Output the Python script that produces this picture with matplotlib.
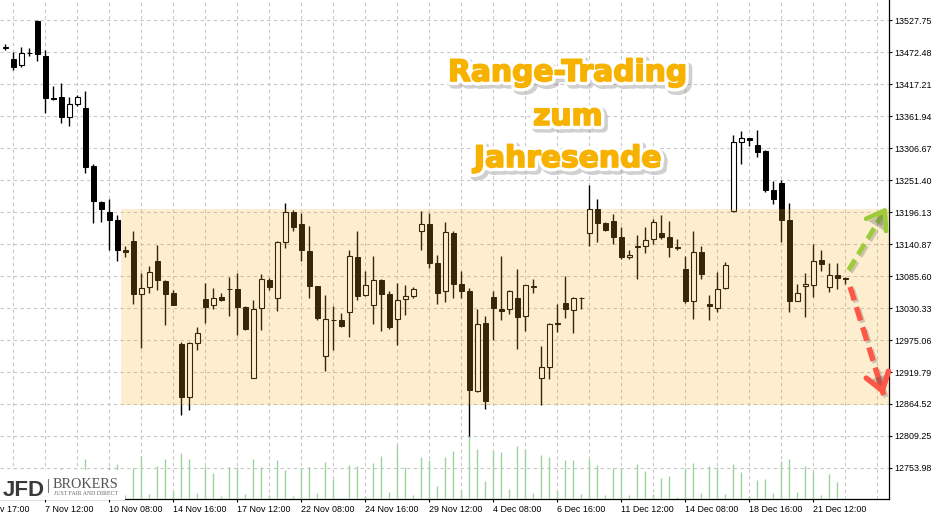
import numpy as np
import matplotlib
matplotlib.use('Agg')
import matplotlib.pyplot as plt
import matplotlib.patheffects as pe
from matplotlib.patches import Rectangle
from matplotlib.lines import Line2D

# Candle data (one bar per index)
opens = [13482, 13462, 13450, 13472, 13527, 13467, 13393, 13396, 13361, 13383,
         13376, 13276, 13214, 13197, 13183, 13130, 13147, 13054, 13066, 13112,
         13077, 13056, 12968, 12876, 12970, 13046, 13035, 13049, 13064, 13063,
         13033, 12910, 13031, 13079, 13047, 13145, 13197, 13176, 13129, 13068,
         12947, 13010, 13010, 13023, 13118, 13053, 13035, 13079, 13055, 13011,
         13046, 13052, 13163, 13176, 13108, 13060, 13160, 13072, 13060, 12887,
         13004, 13049, 13029, 13028, 13048, 13016, 13068, 12909, 12928, 13003,
         13039, 13027, 13048, 13160, 13201, 13178, 13181, 13153, 13118, 13137,
         13137, 13150, 13160, 13153, 13136, 13098, 13043, 13127, 13037, 13030,
         13065, 13198, 13317, 13324, 13313, 13302, 13235, 13246, 13183, 13043,
         13069, 13070, 13113, 13067, 13087, 13082]
highs = [13487, 13474, 13482, 13480, 13529, 13477, 13414, 13420, 13395, 13399,
         13406, 13279, 13215, 13219, 13192, 13137, 13164, 13091, 13103, 13140,
         13079, 13062, 12971, 12972, 12998, 13074, 13065, 13056, 13085, 13091,
         13034, 13045, 13090, 13082, 13147, 13212, 13200, 13194, 13172, 13069,
         13053, 13034, 13022, 13130, 13164, 13095, 13121, 13081, 13060, 13074,
         13070, 13067, 13198, 13194, 13122, 13179, 13163, 13095, 13065, 13029,
         13017, 13060, 13121, 13061, 13098, 13071, 13081, 12964, 13004, 13038,
         13086, 13049, 13050, 13243, 13219, 13179, 13193, 13171, 13131, 13157,
         13170, 13185, 13192, 13181, 13150, 13121, 13164, 13137, 13053, 13092,
         13110, 13329, 13336, 13325, 13338, 13303, 13250, 13252, 13212, 13072,
         13091, 13141, 13130, 13108, 13108, 13085]
lows = [13477, 13443, 13448, 13466, 13458, 13368, 13390, 13350, 13345, 13380,
        13264, 13177, 13180, 13131, 13111, 13118, 13038, 12962, 13057, 13062,
        13001, 13035, 12846, 12854, 12958, 13005, 13028, 13043, 13016, 12984,
        12993, 12909, 12993, 13062, 13026, 13135, 13164, 13111, 13047, 13009,
        12921, 12958, 12997, 12981, 13045, 13052, 13003, 12990, 12995, 12966,
        13019, 13047, 13130, 13100, 13037, 13041, 13047, 13048, 12808, 12885,
        12855, 12975, 13010, 13020, 12959, 12990, 13057, 12862, 12907, 12989,
        13014, 12988, 13028, 13138, 13144, 13163, 13141, 13115, 13115, 13080,
        13125, 13141, 13150, 13119, 13130, 13039, 13011, 13080, 13009, 13024,
        13064, 13197, 13279, 13311, 13292, 13232, 13211, 13144, 13024, 13042,
        13015, 13050, 13095, 13059, 13064, 13072]
closes = [13481, 13448, 13471, 13471, 13469, 13393, 13392, 13361, 13383, 13395,
          13275, 13215, 13201, 13182, 13130, 13127, 13054, 13065, 13092, 13079,
          13055, 13036, 12877, 12970, 12987, 13033, 13048, 13045, 13063, 13033,
          12994, 13029, 13081, 13067, 13145, 13197, 13171, 13130, 13068, 13013,
          13011, 13009, 13000, 13120, 13052, 13070, 13079, 13054, 12997, 13044,
          13052, 13064, 13175, 13109, 13056, 13162, 13072, 13060, 12888, 13003,
          12869, 13030, 13026, 13060, 13015, 13070, 13067, 12928, 13003, 13004,
          13028, 13047, 13047, 13201, 13178, 13166, 13153, 13118, 13122, 13136,
          13148, 13179, 13154, 13136, 13135, 13043, 13127, 13089, 13034, 13063,
          13105, 13317, 13324, 13321, 13301, 13235, 13219, 13182, 13043, 13056,
          13072, 13111, 13106, 13087, 13082, 13080]
volumes = [12, 20, 8, 15, 22, 18, 6, 31, 14, 5,
           40, 20, 7, 32, 35, 4, 31, 43, 5, 33,
           40, 7, 46, 40, 6, 33, 26, 3, 32, 32,
           5, 40, 32, 4, 39, 29, 3, 31, 32, 6,
           37, 20, 1, 34, 33, 3, 36, 43, 7, 54,
           32, 4, 42, 39, 13, 42, 48, 9, 63, 50,
           18, 48, 47, 10, 53, 50, 6, 44, 42, 8,
           39, 39, 5, 40, 34, 4, 31, 31, 4, 35,
           28, 5, 21, 23, 2, 31, 36, 6, 33, 32,
           5, 35, 27, 3, 19, 20, 6, 38, 40, 7,
           33, 27, 4, 25, 17, 1]

price_ticks = [13527.75, 13472.48, 13417.21, 13361.94, 13306.67, 13251.40, 13196.13,
               13140.87, 13085.60, 13030.33, 12975.06, 12919.79, 12864.52, 12809.25, 12753.98]
price_labels = ['13527.75', '13472.48', '13417.21', '13361.94', '13306.67', '13251.40', '13196.13',
                '13140.87', '13085.60', '13030.33', '12975.06', '12919.79', '12864.52', '12809.25', '12753.98']
date_bars = [-3, 5, 13, 21, 29, 37, 45, 53, 61, 69, 77, 85, 93, 101]
date_labels = ['6 Nov 17:00', '7 Nov 12:00', '10 Nov 08:00', '14 Nov 16:00', '17 Nov 12:00',
               '22 Nov 08:00', '24 Nov 16:00', '29 Nov 12:00', '4 Dec 08:00', '6 Dec 16:00',
               '11 Dec 12:00', '14 Dec 08:00', '18 Dec 16:00', '21 Dec 12:00']

# Range zone and scenario arrows
range_start = 14.5
range_top = 13202
range_bottom = 12863
up_arrow = [(105.4, 13096), (110.2, 13205)]
down_arrow = [(105.6, 13067), (109.8, 12880)]

plt.rcParams['font.family'] = ['Liberation Sans', 'DejaVu Sans']

W, H = 936, 519
fig = plt.figure(figsize=(W / 100, H / 100), dpi=100)
ax = fig.add_axes([0, 20 / H, 889 / W, 499 / H])
axv = fig.add_axes([0, 20 / H, 889 / W, 499 / H], sharex=ax)

x = np.arange(len(opens))
o = np.array(opens)
c = np.array(closes)
up = c >= o

# wicks and bodies
ax.vlines(x, lows, highs, color='black', lw=1, zorder=2)
ax.bar(x[~up], (o - c)[~up], bottom=c[~up], width=0.62, color='black',
       edgecolor='black', lw=0.7, zorder=3)
ax.bar(x[up], (c - o)[up], bottom=o[up], width=0.62, color='white',
       edgecolor='black', lw=0.8, zorder=3)

# range band over the candles
ax.add_patch(Rectangle((range_start, range_bottom), 200, range_top - range_bottom,
                       facecolor='#F5B324', alpha=0.22, edgecolor='none', zorder=4))

ax.set_xlim(-0.66, 110.46)
ax.set_ylim(12700.2, 13563.2)

# grid
ax.set_xticks(date_bars[1:])
ax.set_xticklabels(date_labels[1:], ha='left')
ax.set_xticks(np.arange(1, 111, 4), minor=True)
ax.set_yticks(price_ticks)
ax.set_yticklabels(price_labels)
ax.yaxis.tick_right()
gs = dict(color='#c6c6c6', lw=0.8, ls=(0, (3, 3)))
ax.grid(axis='x', which='both', **gs)
ax.grid(axis='y', which='major', **gs)
ax.set_axisbelow(True)
ax.tick_params(axis='x', which='minor', length=0)
ax.tick_params(axis='x', which='major', length=2.5, width=0.8, pad=1.5, labelsize=6.4)
ax.tick_params(axis='y', which='major', length=2.5, width=0.8, pad=1.2, labelsize=6.4)
for s in ['top', 'left']:
    ax.spines[s].set_visible(False)
for s in ['right', 'bottom']:
    ax.spines[s].set_linewidth(0.9)
ax.annotate(date_labels[0], xy=(date_bars[0], 0), xycoords=('data', 'axes fraction'),
            xytext=(0, -4.3), textcoords='offset points', ha='left', va='top',
            fontsize=6.4, annotation_clip=False)

# volume
axv.patch.set_visible(False)
axv.axis('off')
axv.set_ylim(0, 499)
axv.vlines(x, 0, volumes, color='#9ed39e', lw=1)


def scenario_arrow(pts, color, lw):
    (x0, y0), (x1, y1) = pts
    shadow = [pe.SimpleLineShadow(offset=(1.5, -1.5), shadow_color='#777777', alpha=0.35), pe.Normal()]
    ax.plot([x0, x1], [y0, y1], color=color, lw=lw, ls=(0, (2.6, 1.3)),
            dash_capstyle='butt', zorder=6, path_effects=shadow)
    hx, hy = x1 - 0.12 * (x1 - x0), y1 - 0.12 * (y1 - y0)
    ax.annotate('', xy=(x1, y1), xytext=(hx, hy), zorder=6,
                arrowprops=dict(arrowstyle='->,head_length=0.6,head_width=0.42', color=color,
                                lw=lw, mutation_scale=20, shrinkA=0, shrinkB=0,
                                path_effects=[pe.SimplePatchShadow(offset=(1.5, -1.5), alpha=0.3), pe.Normal()]),
                annotation_clip=False)


scenario_arrow(up_arrow, '#9DCB3A', 3.4)
scenario_arrow(down_arrow, '#FF5747', 3.9)

# title
orange = '#F7B200'
title_fx = [pe.Stroke(linewidth=7, foreground='#8a8a8a', alpha=0.4, offset=(2, -2)),
            pe.Stroke(linewidth=6, foreground='white'),
            pe.Stroke(linewidth=1.2, foreground=orange), pe.Normal()]
for txt, base in [('Range-Trading', 81), ('zum', 125), ('Jahresende', 167)]:
    fig.text(568 / W, 1 - base / H, txt, ha='center', va='baseline', fontsize=21.4,
             weight='bold', family='DejaVu Sans', color=orange, path_effects=title_fx, zorder=8)

# broker logo
fig.add_artist(Rectangle((0, 1 - 500 / H), 125 / W, 30 / H, transform=fig.transFigure,
                         facecolor='white', edgecolor='none', zorder=5))
fig.text(3 / W, 1 - 495.5 / H, 'JFD', fontsize=16, weight='bold', color='#3a3a3a',
         va='baseline', zorder=6)
fig.add_artist(Line2D([47.5 / W, 47.5 / W], [1 - 492 / H, 1 - 479 / H], transform=fig.transFigure,
                      color='#777777', lw=0.8, zorder=6))
fig.text(53 / W, 1 - 488 / H, 'BROKERS', fontsize=10.2, family='Liberation Serif',
         color='#555555', va='baseline', zorder=6)
fig.text(53.5 / W, 1 - 495 / H, 'JUST FAIR AND DIRECT', fontsize=4.2, family='Liberation Serif',
         color='#666666', va='baseline', zorder=6)

fig.savefig('out.png', dpi=100)
